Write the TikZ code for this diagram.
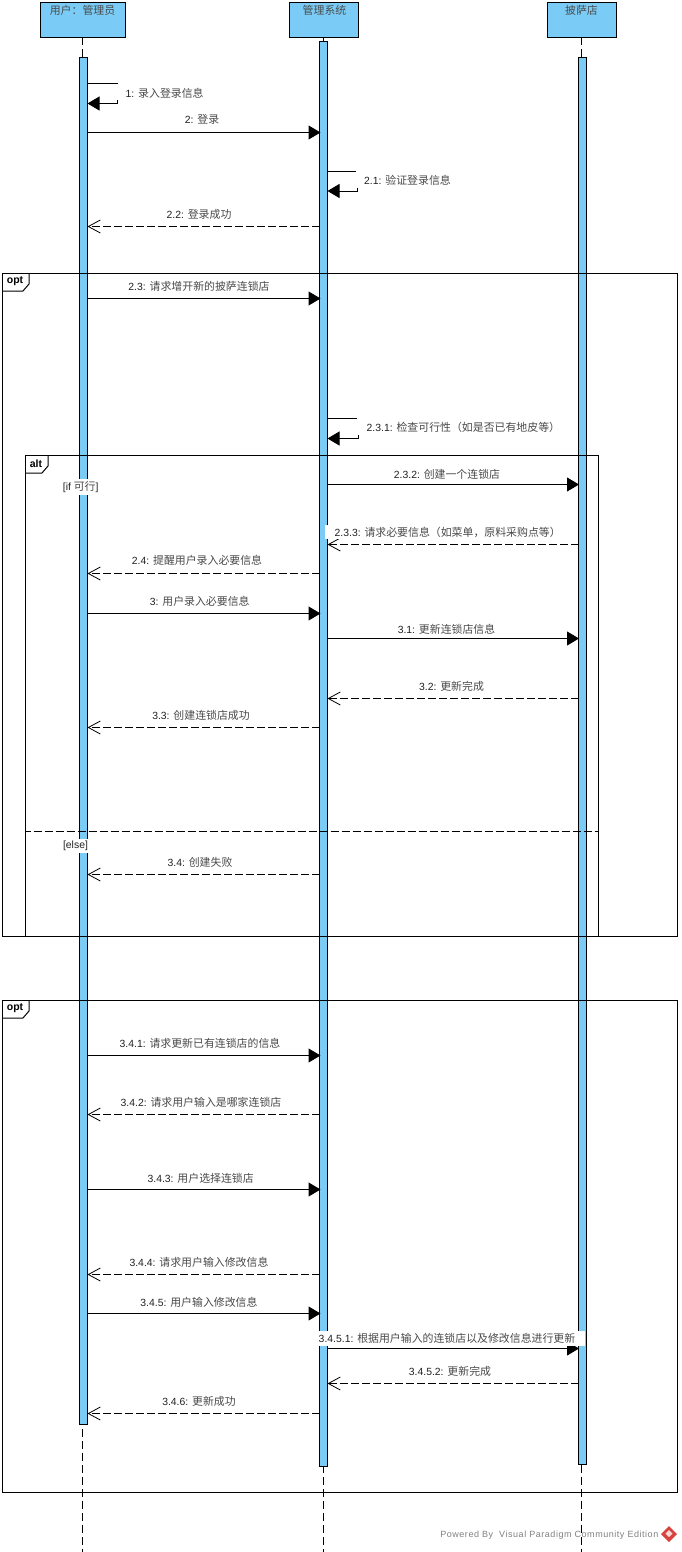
\documentclass[tikz,border=0pt]{standalone}
\usepackage{fontspec}
\setmainfont{Liberation Sans}
\newfontfamily\cjk{Noto Sans CJK SC}
\usetikzlibrary{arrows.meta}
\definecolor{vpblue}{HTML}{7ACCF6}
\definecolor{lab}{HTML}{222222}
\definecolor{zhc}{HTML}{4A4A4A}
\definecolor{vpred}{HTML}{D8423F}
\tikzset{
  headbox/.style={draw=black,line width=0.9pt,fill=vpblue,anchor=north west,inner sep=0pt,outer sep=0pt},
  bar/.style={draw=black,line width=0.9pt,fill=vpblue},
  life/.style={draw=black,line width=0.9pt,dash pattern=on 8pt off 4pt},
  sync/.style={draw=black,line width=1pt,-{Triangle[length=12pt,width=14pt]}},
  reply/.style={draw=black,line width=1pt,dash pattern=on 8pt off 3pt,-{Straight Barb[length=12pt,width=13pt,line width=0.8pt]}},
  plain/.style={draw=black,line width=1pt},
  lbl/.style={font=\fontsize{10.4}{12}\selectfont,text=lab,inner sep=0pt},
  lblw/.style={lbl,fill=white,inner ysep=2pt,inner xsep=0.5pt},
  frame/.style={draw=black,line width=1pt},
  tag/.style={font=\fontsize{10.5}{12}\selectfont\bfseries,inner sep=0pt,text=black},
}
\newcommand{\zh}[1]{{\fontsize{10.9}{12}\selectfont\cjk\color{zhc} #1}}
% \msg[label style]{name}{style}{x1}{x2}{y}{label x}{label y}{text}
\newcommand{\msgcore}[9]{%
  \coordinate (#2s) at (#4,#6);
  \coordinate (#2e) at (#5,#6);
  \draw[#3] (#2s) -- (#2e);
  \node[#1] (#2l) at (#7,#8) {#9};
}
\newcommand{\msg}[1][lbl]{\msgcore{#1}}
% \selfmsg{name}{x1}{x top}{x stub}{y1}{y2}{label left}{label y}{text}
\newcommand{\selfmsg}[9]{%
  \coordinate (#1a) at (#2,#5);
  \coordinate (#1b) at (#3,#5);
  \coordinate (#1c) at (#4,#6-3.5);
  \coordinate (#1e) at (#4,#6);
  \coordinate (#1d) at (#2,#6);
  \draw[plain] (#1a) -- (#1b);
  \draw[sync] (#1c) -- (#1e) -- (#1d);
  \node[lbl,anchor=west] (#1l) at (#7,#8) {#9};
}
\begin{document}
\begin{tikzpicture}[x=1pt,y=-1pt]
\useasboundingbox (0,0) rectangle (681,1552);
\fill[white] (0,0) rectangle (681,1552);

% lifeline heads
\node[headbox,minimum width=85pt,minimum height=34.5pt] (hA) at (40.5,2.5) {};
\node[headbox,minimum width=69pt,minimum height=34.5pt] (hB) at (289.5,2.5) {};
\node[headbox,minimum width=69pt,minimum height=34.5pt] (hC) at (547.5,2.5) {};
\node[lbl] (hAt) at (82.5,10.5) {\zh{用户：管理员}};
\node[lbl] (hBt) at (324.5,10.5) {\zh{管理系统}};
\node[lbl] (hCt) at (581.5,10.5) {\zh{披萨店}};

% lifelines
\coordinate (endA) at (82.5,1552);
\coordinate (endB) at (323.5,1552);
\coordinate (endC) at (581.5,1552);
\draw[life] (hA.south -| endA) -- (endA);
\draw[life] (hB.south -| endB) -- (endB);
\draw[life] (hC.south -| endC) -- (endC);

% activations
\draw[bar] (79.5,57) rectangle (87.5,1424);
\draw[bar] (319.5,41) rectangle (327.5,1466);
\draw[bar] (578.5,57) rectangle (586.5,1464);

% combined fragments
\draw[frame] (2.5,273.5) rectangle (677.5,936);
\draw[frame] (2.5,291) -- (23,291) -- (29,284) -- (29,273.5);
\node[tag] (optA) at (15,281.5) {opt};
\draw[frame] (25.5,455.5) rectangle (598.5,936);
\draw[frame] (25.5,473) -- (42,473) -- (48,466) -- (48,455.5);
\node[tag] (altA) at (36,463.5) {alt};
\draw[frame] (2.5,1000.5) rectangle (677.5,1492.5);
\draw[frame] (2.5,1018) -- (23,1018) -- (29,1011) -- (29,1000.5);
\node[tag] (optB) at (15,1008.5) {opt};
\coordinate (sepL) at (25.5,831);
\coordinate (sepR) at (598.5,831);
\draw[draw=black,line width=0.9pt,dash pattern=on 8pt off 3pt,dash phase=3pt] (sepL) -- (sepR);

\node[lblw] (guardA) at (80.7,487) {[if \zh{可行}]};
\node[lblw] (guardB) at (75.5,846) {[else]};

% messages
\selfmsg{m1}{87.5}{117.5}{117.5}{83.5}{103.5}{125.5}{93}{1: \zh{录入登录信息}}
\msg{m2}{sync}{87.5}{320.5}{132.5}{202}{119}{2: \zh{登录}}
\selfmsg{m21}{327.5}{355.5}{357.5}{171}{191}{364}{180}{2.1: \zh{验证登录信息}}
\msg{m22}{reply}{319.5}{87.5}{226.5}{199}{214}{2.2: \zh{登录成功}}
\msg{m23}{sync}{87.5}{320.5}{298.5}{199}{286}{2.3: \zh{请求增开新的披萨连锁店}}
\selfmsg{m231}{327.5}{357}{358}{418.5}{438.5}{366.5}{427}{2.3.1: \zh{检查可行性（如是否已有地皮等）}}
\msg{m232}{sync}{327.5}{579}{484.5}{447}{474}{2.3.2: \zh{创建一个连锁店}}
\msg[lblw]{m233}{reply}{578.5}{327.5}{544.5}{443.2}{532}{\hspace*{9pt}2.3.3: \zh{请求必要信息（如菜单，原料采购点等）}}
\msg{m24}{reply}{319.5}{87.5}{573.5}{197}{560}{2.4: \zh{提醒用户录入必要信息}}
\msg{m3}{sync}{87.5}{320.5}{613.5}{199.7}{601}{3: \zh{用户录入必要信息}}
\msg{m31}{sync}{327.5}{579}{638.5}{446.5}{629}{3.1: \zh{更新连锁店信息}}
\msg{m32}{reply}{578.5}{327.5}{698.5}{451.5}{686}{3.2: \zh{更新完成}}
\msg{m33}{reply}{319.5}{87.5}{727.5}{201}{715}{3.3: \zh{创建连锁店成功}}
\msg{m34}{reply}{319.5}{87.5}{874.5}{200}{862}{3.4: \zh{创建失败}}
\msg{m341}{sync}{87.5}{320.5}{1055.5}{200}{1043}{3.4.1: \zh{请求更新已有连锁店的信息}}
\msg{m342}{reply}{319.5}{87.5}{1114.5}{201}{1102}{3.4.2: \zh{请求用户输入是哪家连锁店}}
\msg{m343}{sync}{87.5}{320.5}{1189.5}{200.7}{1178}{3.4.3: \zh{用户选择连锁店}}
\msg{m344}{reply}{319.5}{87.5}{1274.5}{199}{1262}{3.4.4: \zh{请求用户输入修改信息}}
\msg{m345}{sync}{87.5}{320.5}{1313.5}{199}{1302}{3.4.5: \zh{用户输入修改信息}}
\msg[lblw]{m3451}{sync}{327.5}{579}{1348.5}{451.5}{1338.5}{3.4.5.1: \zh{根据用户输入的连锁店以及修改信息进行更新}\hspace*{9pt}}
\msg{m3452}{reply}{578.5}{327.5}{1383.5}{450}{1371}{3.4.5.2: \zh{更新完成}}
\msg{m346}{reply}{319.5}{87.5}{1413.5}{199}{1401}{3.4.6: \zh{更新成功}}

% footer
\node[lbl,anchor=east,text=gray,font=\fontsize{9}{12}\selectfont\addfontfeature{LetterSpace=6}] (pow) at (658.5,1535.5) {Powered By\ \ Visual Paradigm Community Edition};
\fill[vpred] (669,1526) -- (677,1534) -- (669,1542) -- (661,1534) -- cycle;
\fill[white!80!vpred] (669,1530) -- (672.5,1533.5) -- (669,1537) -- (665.5,1533.5) -- cycle;
\end{tikzpicture}
\end{document}
